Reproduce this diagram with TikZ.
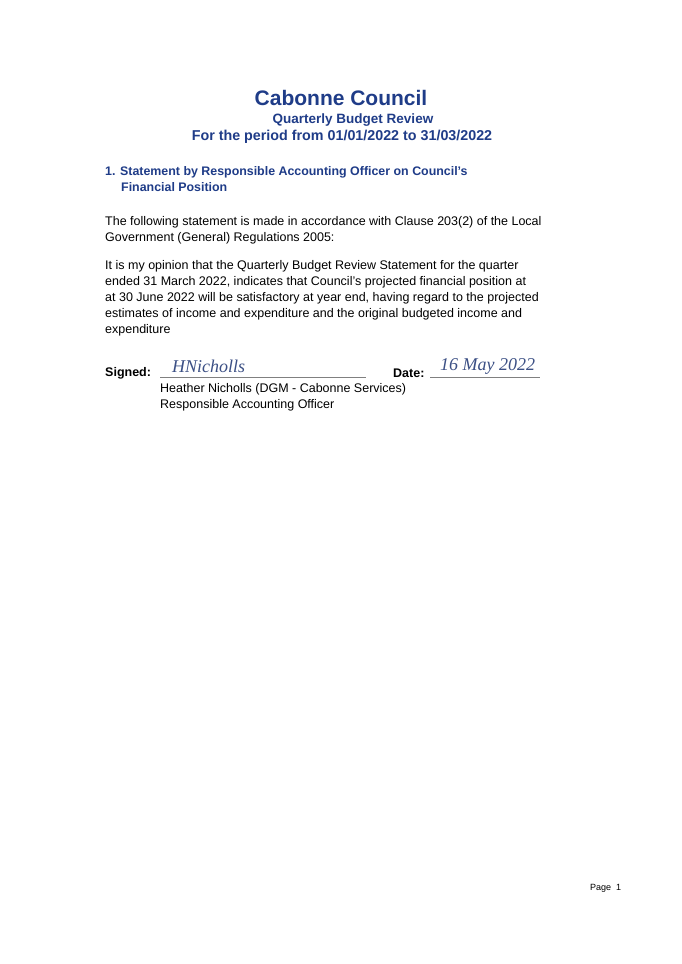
\documentclass[tikz,border=0pt]{standalone}
\usepackage{fontspec}
\setmainfont{Liberation Sans}
\newfontfamily\handfont{Liberation Serif}
\definecolor{ttl}{HTML}{1F3C88}
\begin{document}
\begin{tikzpicture}[x=1pt,y=-1pt,
  tx/.style={anchor=west,inner sep=0pt,font=\fontsize{12.5}{14}\selectfont},
  hd/.style={anchor=west,inner sep=0pt,font=\fontsize{12.4}{14}\selectfont\bfseries,text=ttl},
  ct/.style={inner sep=0pt,text=ttl}]
\fill[white] (0,0) rectangle (682,964);
\useasboundingbox (0,0) rectangle (682,964);
\node[ct,font=\fontsize{21}{24}\selectfont\bfseries] (t1) at (341,98) {Cabonne Council};
\node[ct,font=\fontsize{13.5}{15}\selectfont\bfseries] (t2) at (353,120) {Quarterly Budget Review};
\node[ct,font=\fontsize{14.3}{16}\selectfont\bfseries] (t3) at (342,137) {For the period from 01/01/2022 to 31/03/2022};
\node[hd] (h1) at (105,172) {1. Statement by Responsible Accounting Officer on Council's};
\node[hd] (h2) at (121,187) {Financial Position};
\node[tx] (p1) at (105,222) {The following statement is made in accordance with Clause 203(2) of the Local};
\node[tx] (p2) at (105,238) {Government (General) Regulations 2005:};
\node[tx] (q1) at (105,266) {It is my opinion that the Quarterly Budget Review Statement for the quarter};
\node[tx] (q2) at (105,282) {ended 31 March 2022, indicates that Council's projected financial position at};
\node[tx] (q3) at (105,298) {at 30 June 2022 will be satisfactory at year end, having regard to the projected};
\node[tx] (q4) at (105,314) {estimates of income and expenditure and the original budgeted income and};
\node[tx] (q5) at (105,330) {expenditure};
\node[tx,font=\fontsize{12.5}{14}\selectfont\bfseries] (s) at (105,373) {Signed:};
\coordinate (sa) at (160,377); \coordinate (sb) at (366,377);
\draw[gray,line width=0.5pt] (sa) -- (sb);
\node[tx,font=\fontsize{18}{20}\selectfont\handfont\itshape,text=ttl!70!gray] (sig) at (172,366) {HNicholls};
\node[tx,font=\fontsize{12.5}{14}\selectfont\bfseries] (d) at (393,373) {Date:};
\coordinate (da) at (430,377); \coordinate (db) at (540,377);
\draw[gray,line width=0.5pt] (da) -- (db);
\node[tx,font=\fontsize{18}{20}\selectfont\handfont\itshape,text=ttl!70!gray] (dt) at (440,366) {16 May 2022};
\node[tx] (n1) at (160,389) {Heather Nicholls (DGM - Cabonne Services)};
\node[tx] (n2) at (160,405) {Responsible Accounting Officer};
\node[tx,font=\fontsize{9}{11}\selectfont] (pg) at (590,888) {Page\ \ 1};
\end{tikzpicture}
\end{document}
